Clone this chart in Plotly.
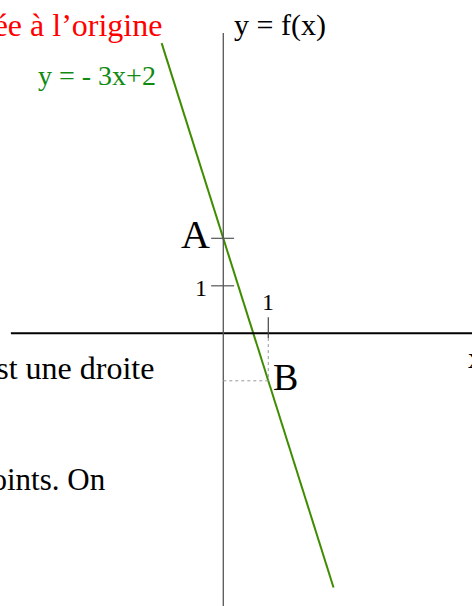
import plotly.graph_objects as go

# Line y = -3x + 2 drawn between two abscissas
slope = -3
intercept = 2
x_ends = [-1.37, 2.45]
line_y = [slope * x + intercept for x in x_ends]

# Marked points and unit ticks
point_A = (0, 2)
point_B = (1, -1)
y_ticks = [1, 2]
x_tick = 1
y_tick_label = "1"
x_tick_label = "1"

# Visible extent of the drawn axes
x_axis_span = [-4.72, 5.6]
y_axis_span = [-5.8, 6.32]

W, H = 472, 606
X_RANGE = [-4.962, 5.527]
Y_RANGE = [-5.741, 7.017]
SERIF = "Liberation Serif, Times New Roman, serif"

fig = go.Figure()

# the straight line
fig.add_trace(go.Scatter(
    x=x_ends, y=line_y, mode="lines",
    line=dict(color="#3f8c00", width=2), hoverinfo="skip", showlegend=False,
))

shapes = []
# x axis
shapes.append(dict(type="line", xref="x", yref="y",
                   x0=x_axis_span[0], x1=x_axis_span[1], y0=0, y1=0,
                   line=dict(color="black", width=2)))
# y axis
shapes.append(dict(type="line", xref="x", yref="y",
                   x0=0, x1=0, y0=y_axis_span[0], y1=y_axis_span[1],
                   line=dict(color="#555555", width=1.3)))
# ticks on the y axis (unit and point A)
for t in y_ticks:
    shapes.append(dict(type="line", xref="x", yref="y",
                       x0=-0.27, x1=0.24, y0=t, y1=t,
                       line=dict(color="#555555", width=1.2)))
# unit tick on the x axis
shapes.append(dict(type="line", xref="x", yref="y",
                   x0=x_tick, x1=x_tick, y0=-0.1, y1=0.34,
                   line=dict(color="#444444", width=1.2)))
# dotted projections of B onto the axes
shapes.append(dict(type="line", xref="x", yref="y",
                   x0=point_B[0], x1=point_B[0], y0=-0.1, y1=point_B[1],
                   line=dict(color="#999999", width=1, dash="dot")))
shapes.append(dict(type="line", xref="x", yref="y",
                   x0=0, x1=point_B[0], y0=point_B[1], y1=point_B[1],
                   line=dict(color="#999999", width=1, dash="dot")))


def px(xp):
    return xp / W


def py(yp):
    return 1 - yp / H


annotations = [
    # point labels
    dict(x=point_A[0], y=point_A[1], xref="x", yref="y", text="A",
         xanchor="right", yanchor="middle", xshift=-11, yshift=4,
         font=dict(family=SERIF, size=40, color="black"), showarrow=False),
    dict(x=point_B[0], y=point_B[1], xref="x", yref="y", text="B",
         xanchor="left", yanchor="middle", xshift=3, yshift=4,
         font=dict(family=SERIF, size=38, color="black"), showarrow=False),
    # unit labels
    dict(x=0, y=y_ticks[0], xref="x", yref="y", text=y_tick_label,
         xanchor="right", yanchor="middle", xshift=-14, yshift=-2,
         font=dict(family=SERIF, size=24, color="black"), showarrow=False),
    dict(x=x_tick, y=0, xref="x", yref="y", text=x_tick_label,
         xanchor="center", yanchor="bottom", xshift=0, yshift=16,
         font=dict(family=SERIF, size=24, color="black"), showarrow=False),
    # axis names
    dict(x=px(232), y=py(25), xref="paper", yref="paper", text="y = f(x)",
         xanchor="left", yanchor="middle",
         font=dict(family=SERIF, size=30, color="black"), showarrow=False),
    dict(x=px(466), y=py(357), xref="paper", yref="paper", text="x",
         xanchor="left", yanchor="middle",
         font=dict(family=SERIF, size=30, color="black"), showarrow=False),
    # equation of the line
    dict(x=px(158), y=py(76), xref="paper", yref="paper", text="y = - 3x+2",
         xanchor="right", yanchor="middle",
         font=dict(family=SERIF, size=28, color="#118a11"), showarrow=False),
    # surrounding text
    dict(x=px(164), y=py(25), xref="paper", yref="paper",
         text="ordonnée à l’origine",
         xanchor="right", yanchor="middle",
         font=dict(family=SERIF, size=32, color="#ff0000"), showarrow=False),
    dict(x=px(156), y=py(368), xref="paper", yref="paper",
         text="est une droite",
         xanchor="right", yanchor="middle",
         font=dict(family=SERIF, size=32, color="black"), showarrow=False),
    dict(x=px(108), y=py(479), xref="paper", yref="paper",
         text="points. On",
         xanchor="right", yanchor="middle",
         font=dict(family=SERIF, size=31, color="black"), showarrow=False),
]

fig.update_layout(
    width=W, height=H,
    margin=dict(l=0, r=0, t=0, b=0),
    paper_bgcolor="white", plot_bgcolor="white",
    xaxis=dict(range=X_RANGE, visible=False, fixedrange=True),
    yaxis=dict(range=Y_RANGE, visible=False, fixedrange=True),
    shapes=shapes,
    annotations=annotations,
    showlegend=False,
)

fig.write_html("out.html", config={"displayModeBar": False})
